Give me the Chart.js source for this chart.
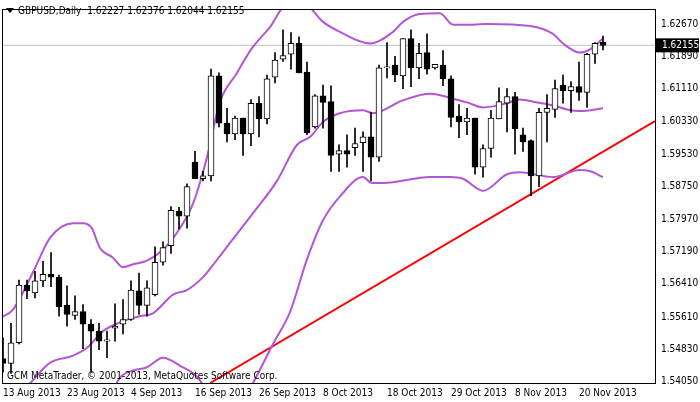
<!DOCTYPE html>
<html><head><meta charset="utf-8">
<script src="https://cdn.jsdelivr.net/npm/chart.js@4"></script>
<style>html,body{margin:0;padding:0;background:#fff}#wrap{width:700px;height:402px}</style>
</head><body><div id="wrap"><canvas id="c"></canvas></div>
<script>
const dateLabels = {0:'13 Aug 2013',8:'23 Aug 2013',16:'4 Sep 2013',24:'16 Sep 2013',32:'26 Sep 2013',40:'8 Oct 2013',48:'18 Oct 2013',56:'29 Oct 2013',64:'8 Nov 2013',72:'20 Nov 2013'};
const priceTicks = [1.62670,1.61890,1.61110,1.60330,1.59530,1.58750,1.57970,1.57190,1.56410,1.55610,1.54830,1.54050];
const opens  = [1.5461,1.5449,1.5499,1.5638,1.5619,1.5648,1.5664,1.5657,1.5589,1.5565,1.5574,1.5544,1.5527,1.5503,1.5534,1.5544,1.5555,1.5624,1.5589,1.5615,1.5693,1.5733,1.5816,1.5804,1.5934,1.5894,1.5901,1.6142,1.6028,1.6002,1.6040,1.6002,1.6076,1.6038,1.6139,1.6182,1.6194,1.6220,1.6151,1.6019,1.6094,1.6080,1.5953,1.5962,1.5969,1.5981,1.5995,1.5946,1.6161,1.6168,1.6142,1.6232,1.6161,1.6198,1.6161,1.6168,1.6135,1.6045,1.6031,1.6040,1.5922,1.5967,1.6038,1.6076,1.6092,1.6000,1.5986,1.5901,1.6054,1.6061,1.6120,1.6106,1.6116,1.6102,1.6194,1.62227];
const highs  = [1.5511,1.5546,1.5650,1.5650,1.5671,1.5695,1.5716,1.5662,1.5636,1.5612,1.5591,1.5555,1.5546,1.5527,1.5593,1.5603,1.5648,1.5667,1.5648,1.5730,1.5742,1.5827,1.5825,1.5882,1.5960,1.5912,1.6158,1.6149,1.6064,1.6045,1.6040,1.6085,1.6092,1.6144,1.6198,1.6253,1.6246,1.6236,1.6175,1.6097,1.6120,1.6118,1.5976,1.6000,1.6016,1.6007,1.6054,1.6168,1.6222,1.6189,1.6232,1.6253,1.6220,1.6243,1.6170,1.6203,1.6142,1.6073,1.6064,1.6040,1.5976,1.6059,1.6113,1.6111,1.6102,1.6016,1.5988,1.6064,1.6097,1.6132,1.6144,1.6128,1.6175,1.6196,1.6222,1.62376];
const lows   = [1.5428,1.5425,1.5496,1.5605,1.5607,1.5634,1.5634,1.5563,1.5539,1.5555,1.5485,1.5428,1.5482,1.5463,1.5503,1.5520,1.5553,1.5567,1.5563,1.5612,1.5686,1.5714,1.5773,1.5775,1.5894,1.5889,1.5889,1.6019,1.5983,1.5988,1.5950,1.5974,1.5995,1.6026,1.6125,1.6177,1.6158,1.6149,1.6000,1.6016,1.6016,1.5912,1.5912,1.5922,1.5950,1.5912,1.5889,1.5936,1.6137,1.6128,1.6111,1.6116,1.6135,1.6146,1.6158,1.6118,1.6019,1.5993,1.6000,1.5905,1.5898,1.5946,1.6038,1.6007,1.5953,1.5960,1.5853,1.5875,1.5983,1.6042,1.6076,1.6054,1.6083,1.6066,1.6172,1.62044];
const closes = [1.5449,1.5499,1.5638,1.5624,1.5648,1.5664,1.5657,1.5586,1.5567,1.5574,1.5544,1.5527,1.5503,1.5506,1.5539,1.5555,1.5626,1.5589,1.5631,1.5693,1.5728,1.5818,1.5804,1.5875,1.5894,1.5901,1.6142,1.6028,1.6002,1.6040,1.6002,1.6076,1.6038,1.6135,1.6180,1.6191,1.6220,1.6149,1.6005,1.6094,1.6078,1.5950,1.5962,1.5953,1.5979,1.5995,1.5946,1.6161,1.6163,1.6144,1.6232,1.6161,1.6196,1.6158,1.6170,1.6135,1.6042,1.6031,1.6040,1.5922,1.5967,1.6040,1.6080,1.6092,1.6014,1.5983,1.5901,1.6054,1.6064,1.6111,1.6106,1.6116,1.6102,1.6194,1.6220,1.62155];
const upperBand = [[-0.4,1.5558],[1.25,1.5579],[3.75,1.5669],[5.9,1.5752],[8.75,1.5787],[10,1.5787],[11.1,1.5775],[12.1,1.5728],[13.75,1.5704],[15,1.5681],[16.25,1.5688],[18,1.5697],[20,1.5723],[21.75,1.5764],[23.75,1.5834],[25.5,1.5946],[27.1,1.6078],[29.25,1.6149],[31.1,1.6208],[33.4,1.6260],[35.5,1.6314],[38,1.6310],[40,1.6272],[42.1,1.6248],[45.9,1.6220],[48.75,1.6248],[50,1.6272],[52.1,1.6291],[54.6,1.6293],[56.25,1.6265],[58.75,1.6265],[60.5,1.6267],[65.9,1.6262],[68.75,1.6243],[70,1.6220],[72.1,1.6198],[73.4,1.6206],[75,1.6232]];
const middleBand = [[1.9,1.5373],[3.4,1.5402],[5.9,1.5451],[8.75,1.5468],[10.5,1.5487],[12.5,1.5527],[15,1.5551],[17.1,1.5563],[18.75,1.5570],[21.25,1.5615],[23,1.5626],[25,1.5657],[26.6,1.5695],[28.4,1.5740],[31.25,1.5811],[34.25,1.5889],[36.75,1.5976],[38.4,1.5995],[40,1.6031],[42.1,1.6052],[45,1.6059],[46.25,1.6052],[50,1.6083],[53.4,1.6099],[56.25,1.6087],[58,1.6078],[60,1.6066],[63,1.6076],[64.6,1.6085],[66.75,1.6078],[68.75,1.6071],[70.5,1.6061],[72.1,1.6057],[75,1.6064]];
const lowerBand = [[12.1,1.5314],[14.6,1.5414],[16.25,1.5432],[18,1.5440],[20,1.5463],[22.1,1.5444],[24.6,1.5409],[27.75,1.5291],[31.25,1.5402],[33.75,1.5496],[35.9,1.5574],[38,1.5700],[40,1.5794],[42.1,1.5851],[45,1.5898],[46.1,1.5884],[47.5,1.5884],[53.4,1.5898],[55.9,1.5898],[57.5,1.5894],[60,1.5865],[63,1.5905],[64.6,1.5910],[68.75,1.5898],[72.1,1.5915],[73.4,1.5912],[75,1.5898]];
const trendLine = [[25.9,1.5402],[81.5,1.6033]];
const lastPrice = 1.62155;
const header = 'GBPUSD,Daily  1.62227 1.62376 1.62044 1.62155';
const copyright = 'GCM MetaTrader, © 2001-2013, MetaQuotes Software Corp.';

const idx = opens.map((_, i) => i);
const pts = a => a.map(p => ({x:p[0], y:p[1]}));
const FAM = '"DejaVu Sans Condensed", "DejaVu Sans"';
const FONT = '10px ' + FAM;

const overlay = {
  id:'overlay',
  afterDraw(ch){
    const c = ch.ctx, ya = ch.scales.y, ar = ch.chartArea;
    c.save();
    c.fillStyle='#000'; c.font=FONT; c.textBaseline='middle';
    c.beginPath(); c.moveTo(6,8); c.lineTo(14,8); c.lineTo(10,13); c.closePath(); c.fill();
    c.fillText(header,18,11);
    c.fillText(copyright,7,376);
    const yy = ya.getPixelForValue(lastPrice);
    c.fillStyle='#000'; c.fillRect(ar.right+1,yy-7,43,14);
    c.fillStyle='#fff'; c.fillText(lastPrice.toFixed(5),ar.right+7,yy);
    c.restore();
  }
};

new Chart(document.getElementById('c'), {
  data:{datasets:[
    {type:'bar', data: idx.map(i=>({x:i,y:[lows[i],highs[i]]})), backgroundColor:'#000', barThickness:1, grouped:false, order:1, minBarLength:1},
    {type:'bar', data: idx.map(i=>({x:i,y:[opens[i],closes[i]]})), backgroundColor: idx.map(i=>closes[i]>=opens[i]?'#fff':'#000'), borderColor:'#000', borderWidth:1, borderSkipped:false, barThickness:6, grouped:false, order:0, minBarLength:1},
    {type:'line', data: pts(upperBand), borderColor:'#b455d6', borderWidth:2, pointRadius:0, cubicInterpolationMode:'monotone', order:2},
    {type:'line', data: pts(middleBand), borderColor:'#b455d6', borderWidth:2, pointRadius:0, cubicInterpolationMode:'monotone', order:2},
    {type:'line', data: pts(lowerBand), borderColor:'#b455d6', borderWidth:2, pointRadius:0, cubicInterpolationMode:'monotone', order:2},
    {type:'line', data: pts(trendLine), borderColor:'#ff0000', borderWidth:2, pointRadius:0, order:2},
    {type:'line', data: [{x:-1,y:lastPrice},{x:90,y:lastPrice}], borderColor:'#c0c0c0', borderWidth:1, pointRadius:0, order:3}
  ]},
  options:{
    responsive:true, maintainAspectRatio:false, animation:false, devicePixelRatio:1,
    layout:{padding:{top:2,left:2,right:0,bottom:0}},
    plugins:{legend:{display:false}, tooltip:{enabled:false}},
    scales:{
      x:{type:'linear', min:-0.125, max:81.5, offset:false,
        afterBuildTicks(ax){ ax.ticks = Object.keys(dateLabels).map(k=>({value:+k})); },
        afterFit(ax){ ax.height = 19; },
        grid:{display:false, drawOnChartArea:false, drawTicks:true, tickLength:3, color:'#000'},
        border:{color:'#000', width:1},
        ticks:{align:'start', maxRotation:0, autoSkip:false, color:'#000', font:{family:FAM, size:10}, padding:1,
          callback:v=>dateLabels[v]||''}},
      y:{position:'right', min:1.5402, max:1.6303,
        afterBuildTicks(ax){ ax.ticks = priceTicks.map(v=>({value:v})); },
        afterFit(ax){ ax.width = 45; },
        grid:{display:false, drawOnChartArea:false, drawTicks:true, tickLength:3, color:'#000'},
        border:{color:'#000', width:1},
        ticks:{color:'#000', font:{family:FAM, size:10}, padding:3, autoSkip:false,
          callback:v=>v.toFixed(5)}}
    }
  },
  plugins:[overlay, {id:'frame', afterDraw(ch){const a=ch.chartArea,c=ch.ctx;c.save();c.strokeStyle='#000';c.lineWidth=1;c.strokeRect(a.left+0.5,a.top+0.5,a.right-a.left,a.bottom-a.top);c.restore();}}]
});
</script></body></html>
